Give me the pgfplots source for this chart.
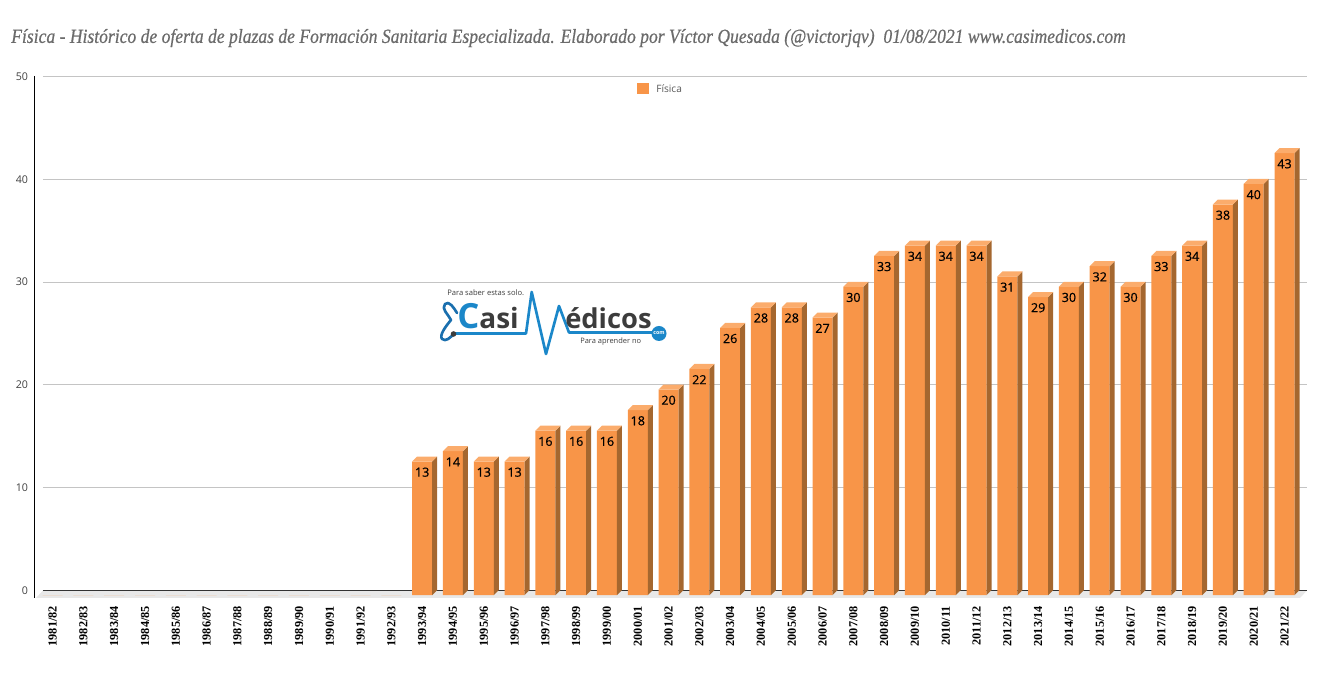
\documentclass[border=0pt]{standalone}
\usepackage{fontspec}
\usepackage{graphicx}
\usepackage{pgfplots}
\pgfplotsset{compat=1.18}
\setmainfont{Open Sans}
\newfontfamily\titlefont[FakeBold=0.6]{Liberation Serif}
\newfontfamily\xfont{Liberation Serif}
\newfontfamily\valfont[FakeBold=0.6]{Open Sans}
\definecolor{front}{HTML}{F89548}
\definecolor{side}{HTML}{A5672F}
\definecolor{topface}{HTML}{FBAC6C}
\definecolor{gridc}{HTML}{C4C4C4}
\definecolor{logoblue}{HTML}{1B87C9}
\definecolor{logotube}{HTML}{1A6FAE}
\definecolor{logodark}{HTML}{3C3C3C}

% one picture pixel is 0.75pt; faces of a bar, origin at the data point
\pgfdeclareplotmark{bar3d}{%
	\ifdim\rawy pt>0pt
		\pgfmathsetmacro{\h}{\rawy*7.71}%
		\pgfsetfillcolor{side}%
		\pgfpathmoveto{\pgfpoint{7.5pt}{-3.5pt}}%
		\pgfpathlineto{\pgfpoint{11.25pt}{0.25pt}}%
		\pgfpathlineto{\pgfpoint{11.25pt}{0.25pt-\h pt}}%
		\pgfpathlineto{\pgfpoint{7.5pt}{-3.5pt-\h pt}}%
		\pgfpathclose
		\pgfusepath{fill}%
		\pgfsetfillcolor{topface}%
		\pgfpathmoveto{\pgfpoint{-7.5pt}{-3.5pt}}%
		\pgfpathlineto{\pgfpoint{-3.75pt}{0.25pt}}%
		\pgfpathlineto{\pgfpoint{11.25pt}{0.25pt}}%
		\pgfpathlineto{\pgfpoint{7.5pt}{-3.5pt}}%
		\pgfpathclose
		\pgfusepath{fill}%
	\fi
}

\pgfplotstableread{
x y
0 0
1 0
2 0
3 0
4 0
5 0
6 0
7 0
8 0
9 0
10 0
11 0
12 13
13 14
14 13
15 13
16 16
17 16
18 16
19 18
20 20
21 22
22 26
23 28
24 28
25 27
26 30
27 33
28 34
29 34
30 34
31 31
32 29
33 30
34 32
35 30
36 33
37 34
38 38
39 40
40 43
}\plazas

\begin{document}
\begin{tikzpicture}
	\useasboundingbox (0,0) rectangle (999pt,504.75pt);
	\begin{axis}[
			at={(32.25pt,61.875pt)},
			anchor=south west,
			scale only axis,
			width=948pt,
			height=385.5pt,
			clip=false,
			xmin=-0.312,
			xmax=40.73,
			ymin=0,
			ymax=50,
			ytick={0,10,20,30,40,50},
			xtick={0,...,40},
			xticklabels={1981/82,1982/83,1983/84,1984/85,1985/86,1986/87,1987/88,1988/89,1989/90,1990/91,1991/92,1992/93,1993/94,1994/95,1995/96,1996/97,1997/98,1998/99,1999/00,2000/01,2001/02,2002/03,2003/04,2004/05,2005/06,2006/07,2007/08,2008/09,2009/10,2010/11,2011/12,2012/13,2013/14,2014/15,2015/16,2016/17,2017/18,2018/19,2019/20,2020/21,2021/22},
			axis line style={draw=none},
			tick style={draw=none},
			ymajorgrids=true,
			grid style={gridc,line width=0.75pt},
			/pgf/number format/assume math mode=true,
			yticklabel style={font=\fontsize{8}{9}\selectfont,text=black!75,anchor=east,inner sep=0pt,xshift=-11pt},
			xticklabel style={font=\xfont\bfseries\fontsize{9.2}{10}\selectfont,rotate=90,anchor=east,inner sep=0pt,xshift=-11.5pt},
			legend style={
				at={(0.4886,0.975)},
				anchor=center,
				draw=none,
				fill=none,
				font=\fontsize{7.6}{9}\selectfont,
				text=black!65,
			},
			legend image code/.code={
				\fill[front] (-0.75pt,-0.2pt) rectangle (8.5pt,8.5pt);
				\path (12pt,0pt);
			},
		]
		\fill[black!9] (rel axis cs:0,0) -- (rel axis cs:1,0)
			-- ([shift={(-5.25pt,-5.6pt)}]rel axis cs:1,0)
			-- ([shift={(-5.25pt,-5.6pt)}]rel axis cs:0,0) -- cycle;
		\draw[black!80,line width=0.75pt] (rel axis cs:0,0) -- (rel axis cs:1,0);
		\addplot[
			forget plot,
			scatter,
			only marks,
			mark=bar3d,
			scatter/@pre marker code/.code={},
			scatter/@post marker code/.code={},
			visualization depends on={rawy \as \rawy},
		] table[x=x,y=y] {\plazas};
		\addplot[
			ybar,
			bar width=15pt,
			bar shift=0pt,
			fill=front,
			draw=none,
			yshift=-3.5pt,
			visualization depends on={rawy \as \rawy},
			nodes near coords={\ifdim\rawy pt>0pt \pgfmathprintnumber{\rawy}\fi},
			every node near coord/.append style={
				anchor=center,
				yshift=-8pt,
				text=black,
				font=\valfont\fontsize{9.4}{10}\selectfont,
			},
		] table[x=x,y=y] {\plazas};
		\addlegendentry{Física}
	\end{axis}
	% px coordinates from the top left corner of the picture for title and logo
	\begin{scope}[x=0.75pt,y=-0.75pt,shift={(0pt,504.75pt)}]
		\draw[black,line width=0.9pt] (34.5,76) -- (34.5,598);
		\node[anchor=west,inner sep=0pt,text=black!58] at (11,38)
			{\scalebox{0.879}[1]{\titlefont\itshape\fontsize{15}{18}\selectfont Física - Histórico de oferta de plazas de Formación Sanitaria Especializada. Elaborado por Víctor Quesada (@victorjqv)~ 01/08/2021 www.casimedicos.com}};
		% logo
		\draw[logoblue,line width=2pt,line join=round]
			(454,333.5) -- (526,333.5) -- (531.7,292) -- (546,354) -- (559,306) -- (569,332.5) -- (654,332.5);
		\draw[logotube,line width=2pt,line cap=round,line join=round]
			(454,333.5) .. controls (450,338) and (446,342) .. (442,339)
			.. controls (439,335) and (446,326) .. (451,320)
			.. controls (448,314) and (441,309) .. (445,304)
			.. controls (449,300) and (454,308) .. (457,313);
		\fill[logodark] (453.5,334) circle (2.8);
		\node[anchor=base west,inner sep=0pt,text=logodark] at (457,328.8)
			{\bfseries\textcolor{logoblue}{\fontsize{26}{28}\selectfont C}\fontsize{21}{24}\selectfont asi};
		\node[anchor=base west,inner sep=0pt,text=logodark] at (565,328.8)
			{\fontsize{20.5}{24}\selectfont\bfseries édicos};
		\node[anchor=west,inner sep=0pt,text=logodark] at (447,292.5)
			{\fontsize{5.7}{7}\selectfont Para saber estas solo.};
		\node[anchor=west,inner sep=0pt,text=logodark] at (580,341.5)
			{\fontsize{5.6}{7}\selectfont Para aprender no};
		\fill[logoblue] (659,333.5) circle (7.5);
		\node[text=white,inner sep=0pt] at (659,333.5) {\fontsize{4}{5}\selectfont\bfseries com};
	\end{scope}
\end{tikzpicture}
\end{document}
